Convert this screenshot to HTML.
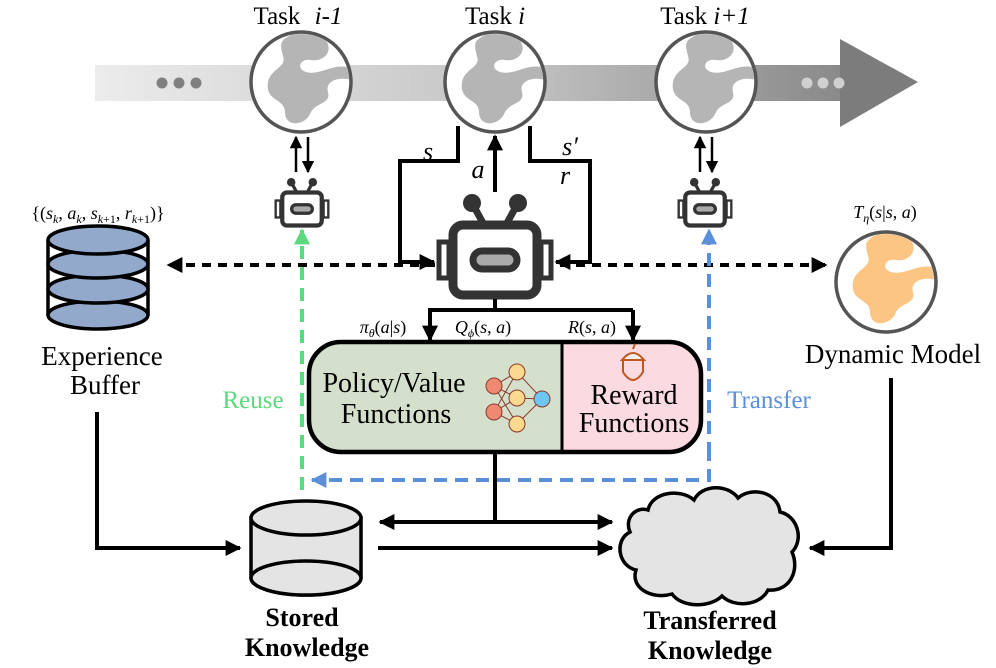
<!DOCTYPE html>
<html><head><meta charset="utf-8"><style>
html,body{margin:0;padding:0;background:#fff;}
svg{display:block;font-family:"Liberation Serif","DejaVu Serif",serif;}
svg text{font-family:"Liberation Serif","DejaVu Serif",serif;}
</style></head><body>
<svg width="996" height="668" viewBox="0 0 996 668" xmlns="http://www.w3.org/2000/svg">
<defs>
<linearGradient id="band" x1="95" y1="0" x2="920" y2="0" gradientUnits="userSpaceOnUse">
<stop offset="0" stop-color="#ececec"/><stop offset="0.5" stop-color="#c4c4c4"/><stop offset="1" stop-color="#7c7c7c"/>
</linearGradient>
<clipPath id="gc"><circle cx="0" cy="0" r="48"/></clipPath>
<g id="cont">
<path d="M-15,-44 C-5,-52 20,-52 26,-40 C32,-28 20,-20 10,-22 C0,-24 -6,-14 5,-10 C20,-6 32,-20 50,-14 L50,-2 C36,-6 24,0 27,10 C30,22 16,20 10,30 C5,44 -16,46 -16,30 C-16,16 -36,20 -33,0 C-30,-14 -14,-14 -18,-26 C-20,-34 -22,-40 -15,-44Z"/>
</g>
<g id="robot">
<rect x="-42" y="-35" width="84" height="70" rx="10" fill="#fff" stroke="#333" stroke-width="9"/>
<rect x="-56" y="-18" width="10" height="36" fill="#fff" stroke="#333" stroke-width="5"/>
<rect x="46" y="-18" width="10" height="36" fill="#fff" stroke="#333" stroke-width="5"/>
<line x1="-12" y1="-37" x2="-23" y2="-57" stroke="#333" stroke-width="7"/>
<line x1="12" y1="-37" x2="23" y2="-57" stroke="#333" stroke-width="7"/>
<circle cx="-23" cy="-57" r="9" fill="#333"/><circle cx="23" cy="-57" r="9" fill="#333"/>
<rect x="-22" y="-9" width="44" height="18" rx="9" fill="#aaa" stroke="#333" stroke-width="7"/>
</g>
<marker id="ah" viewBox="0 0 10 10" refX="9" refY="5" markerWidth="4" markerHeight="4" orient="auto-start-reverse"><path d="M0,0 L10,5 L0,10Z" fill="#000"/></marker>
<marker id="ahs" viewBox="0 0 10 10" refX="9" refY="5" markerWidth="5" markerHeight="5" orient="auto-start-reverse"><path d="M0,0 L10,5 L0,10Z" fill="#000"/></marker>
<marker id="ahg" viewBox="0 0 10 10" refX="9" refY="5" markerWidth="4" markerHeight="4" orient="auto"><path d="M0,0 L10,5 L0,10Z" fill="#5dd87f"/></marker>
<marker id="ahb" viewBox="0 0 10 10" refX="9" refY="5" markerWidth="4" markerHeight="4" orient="auto"><path d="M0,0 L10,5 L0,10Z" fill="#5b8fd8"/></marker>
</defs>

<rect x="95" y="65" width="750" height="36" fill="url(#band)"/>
<path d="M840,39 L918,82 L840,127Z" fill="#7c7c7c"/>
<circle cx="162" cy="83" r="5.5" fill="#808080"/><circle cx="179" cy="83" r="5.5" fill="#808080"/><circle cx="196" cy="83" r="5.5" fill="#808080"/>
<circle cx="807" cy="83" r="5.5" fill="#d0d0d0"/><circle cx="823" cy="83" r="5.5" fill="#d0d0d0"/><circle cx="839" cy="83" r="5.5" fill="#d0d0d0"/>

<g transform="translate(301,82)"><circle r="50" fill="#fff"/><g clip-path="url(#gc)" fill="#b5b5b5"><use href="#cont"/></g><circle r="50" fill="none" stroke="#555" stroke-width="3.5"/></g>
<g transform="translate(495,82)"><circle r="50" fill="#fff"/><g clip-path="url(#gc)" fill="#b5b5b5"><use href="#cont"/></g><circle r="50" fill="none" stroke="#555" stroke-width="3.5"/></g>
<g transform="translate(706,82)"><circle r="50" fill="#fff"/><g clip-path="url(#gc)" fill="#b5b5b5"><use href="#cont"/></g><circle r="50" fill="none" stroke="#555" stroke-width="3.5"/></g>
<g transform="translate(886,282)"><circle r="50" fill="#fff"/><g clip-path="url(#gc)" fill="#fdc584"><use href="#cont"/></g><circle r="50" fill="none" stroke="#555" stroke-width="3.5"/></g>

<text x="298" y="24" font-size="25" text-anchor="middle">Task <tspan font-style="italic" dx="8">i-1</tspan></text>
<text x="495" y="24" font-size="25" text-anchor="middle">Task <tspan font-style="italic">i</tspan></text>
<text x="705" y="24" font-size="25" text-anchor="middle">Task <tspan font-style="italic">i+1</tspan></text>

<line x1="296" y1="172" x2="296" y2="137" stroke="#000" stroke-width="2.5" marker-end="url(#ahs)"/>
<line x1="308" y1="137" x2="308" y2="172" stroke="#000" stroke-width="2.5" marker-end="url(#ahs)"/>
<line x1="700" y1="172" x2="700" y2="137" stroke="#000" stroke-width="2.5" marker-end="url(#ahs)"/>
<line x1="712" y1="137" x2="712" y2="172" stroke="#000" stroke-width="2.5" marker-end="url(#ahs)"/>
<use href="#robot" transform="translate(302,209) scale(0.47)"/>
<use href="#robot" transform="translate(705,209) scale(0.47)"/>

<polyline points="458,126 458,161 400,161 400,262 434,262" fill="none" stroke="#000" stroke-width="4" marker-end="url(#ah)"/>
<polyline points="530,126 530,161 590,161 590,262 556,262" fill="none" stroke="#000" stroke-width="4" marker-end="url(#ah)"/>
<line x1="495" y1="192" x2="495" y2="136" stroke="#000" stroke-width="4" marker-end="url(#ah)"/>
<text x="428" y="160" font-size="26" font-style="italic" text-anchor="middle">s</text>
<text x="478" y="178" font-size="26" font-style="italic" text-anchor="middle">a</text>
<text x="570" y="155" font-size="26" font-style="italic" text-anchor="middle">s′</text>
<text x="565" y="184" font-size="26" font-style="italic" text-anchor="middle">r</text>
<use href="#robot" transform="translate(495,260)"/>

<line x1="435" y1="265" x2="168" y2="265" stroke="#000" stroke-width="4" stroke-dasharray="9,7" marker-end="url(#ah)"/>
<line x1="560" y1="265" x2="826" y2="265" stroke="#000" stroke-width="4" stroke-dasharray="9,7" marker-end="url(#ah)"/>

<polyline points="495,299 495,310" fill="none" stroke="#000" stroke-width="4"/>
<polyline points="428,310 633,310" fill="none" stroke="#000" stroke-width="4"/>
<line x1="430" y1="310" x2="430" y2="340" stroke="#000" stroke-width="4" marker-end="url(#ah)"/>
<line x1="633" y1="310" x2="633" y2="340" stroke="#000" stroke-width="4" marker-end="url(#ah)"/>
<text x="383" y="333" font-size="18" text-anchor="middle"><tspan font-style="italic">π</tspan><tspan font-size="12" font-style="italic" dy="4">θ</tspan><tspan dy="-4">(</tspan><tspan font-style="italic">a</tspan>|<tspan font-style="italic">s</tspan>)</text>
<text x="483" y="333" font-size="18" text-anchor="middle"><tspan font-style="italic">Q</tspan><tspan font-size="12" font-style="italic" dy="4">ϕ</tspan><tspan dy="-4">(</tspan><tspan font-style="italic">s</tspan>, <tspan font-style="italic">a</tspan>)</text>
<text x="592" y="333" font-size="18" text-anchor="middle"><tspan font-style="italic">R</tspan>(<tspan font-style="italic">s</tspan>, <tspan font-style="italic">a</tspan>)</text>

<clipPath id="bx"><rect x="309" y="342" width="392" height="110" rx="32"/></clipPath>
<g clip-path="url(#bx)"><rect x="309" y="342" width="253" height="110" fill="#d5e0cc"/><rect x="562" y="342" width="140" height="110" fill="#fcdae1"/></g>
<rect x="309" y="342" width="392" height="110" rx="32" fill="none" stroke="#000" stroke-width="4.5"/>
<line x1="562" y1="342" x2="562" y2="452" stroke="#000" stroke-width="3"/>
<text x="394" y="392" font-size="28" text-anchor="middle">Policy/Value</text>
<text x="396" y="423" font-size="28" text-anchor="middle">Functions</text>
<text x="634" y="404" font-size="28" text-anchor="middle">Reward</text>
<text x="634" y="432" font-size="28" text-anchor="middle">Functions</text>
<g stroke="#8b3a2a" stroke-width="1">
<line x1="494" y1="386" x2="517" y2="372"/><line x1="494" y1="386" x2="517" y2="398"/><line x1="494" y1="386" x2="517" y2="424"/>
<line x1="494" y1="412" x2="517" y2="372"/><line x1="494" y1="412" x2="517" y2="398"/><line x1="494" y1="412" x2="517" y2="424"/>
<line x1="517" y1="372" x2="542" y2="399"/><line x1="517" y1="398" x2="542" y2="399"/><line x1="517" y1="424" x2="542" y2="399"/>
<circle cx="494" cy="386" r="8" fill="#ef8a72"/><circle cx="494" cy="412" r="8" fill="#ef8a72"/>
<circle cx="517" cy="372" r="8" fill="#fbd98f"/><circle cx="517" cy="398" r="8" fill="#fbd98f"/><circle cx="517" cy="424" r="8" fill="#fbd98f"/>
<circle cx="542" cy="399" r="8" fill="#6cc8f2"/>
</g>
<g stroke="#c0581d" stroke-width="2" fill="none">
<path d="M622,360 Q633,346 644,360 Z" fill="#eee"/>
<path d="M623,361 L623,372 Q633,388 643,372 L643,361"/>
<line x1="633" y1="349" x2="635" y2="344"/>
</g>

<polyline points="495,452 495,522" fill="none" stroke="#000" stroke-width="4"/>
<polyline points="709,448 709,480 312,480" fill="none" stroke="#5b8fd8" stroke-width="4" stroke-dasharray="13,8" marker-end="url(#ahb)"/>
<line x1="709" y1="455" x2="709" y2="230" stroke="#5b8fd8" stroke-width="4" stroke-dasharray="13,8" marker-end="url(#ahb)"/>
<line x1="302" y1="490" x2="302" y2="230" stroke="#5dd87f" stroke-width="4" stroke-dasharray="13,8" marker-end="url(#ahg)"/>
<text x="253" y="408" font-size="25" fill="#5dd87f" text-anchor="middle">Reuse</text>
<text x="769" y="408" font-size="25" fill="#5b8fd8" text-anchor="middle">Transfer</text>

<text x="98" y="219" font-size="18" text-anchor="middle">{(<tspan font-style="italic">s</tspan><tspan font-size="12" font-style="italic" dy="4">k</tspan><tspan dy="-4">, </tspan><tspan font-style="italic">a</tspan><tspan font-size="12" font-style="italic" dy="4">k</tspan><tspan dy="-4">, </tspan><tspan font-style="italic">s</tspan><tspan font-size="12" dy="4"><tspan font-style="italic">k</tspan>+1</tspan><tspan dy="-4">, </tspan><tspan font-style="italic">r</tspan><tspan font-size="12" dy="4"><tspan font-style="italic">k</tspan>+1</tspan><tspan dy="-4">)}</tspan></text>
<g stroke="#000" stroke-width="3.5">
<path d="M48,240 L48,315 M148,240 L148,315" fill="none"/>
<ellipse cx="98" cy="315" rx="50" ry="14" fill="#93a9cc"/>
<ellipse cx="98" cy="289" rx="50" ry="14" fill="#93a9cc"/>
<ellipse cx="98" cy="264" rx="50" ry="14" fill="#93a9cc"/>
<ellipse cx="98" cy="240" rx="50" ry="14" fill="#93a9cc"/>
</g>
<text x="102" y="365" font-size="27" text-anchor="middle">Experience</text>
<text x="105" y="394" font-size="27" text-anchor="middle">Buffer</text>
<polyline points="97,412 97,548 240,548" fill="none" stroke="#000" stroke-width="4" marker-end="url(#ah)"/>

<g stroke="#000" stroke-width="3.5" fill="#e4e4e4">
<path d="M251,518 L251,578 A55,17 0 0 0 361,578 L361,518 Z"/>
<ellipse cx="306" cy="578" rx="55" ry="17"/>
<ellipse cx="306" cy="518" rx="55" ry="17"/>
</g>
<text x="302" y="626" font-size="26" font-weight="bold" text-anchor="middle">Stored</text>
<text x="307" y="656" font-size="26" font-weight="bold" text-anchor="middle">Knowledge</text>

<line x1="380" y1="522" x2="612" y2="522" stroke="#000" stroke-width="4" marker-start="url(#ah)" marker-end="url(#ah)"/>
<line x1="378" y1="548" x2="612" y2="548" stroke="#000" stroke-width="4" marker-end="url(#ah)"/>

<path d="M648,510 C652,492 680,488 694,500 C702,484 728,484 738,498 C752,486 778,492 780,512 C798,516 804,540 792,552 C800,570 790,592 768,590 C760,606 734,608 722,596 C710,608 682,608 672,594 C652,600 630,588 636,570 C618,566 614,540 630,532 C624,518 636,506 648,510 Z" fill="#e4e4e4" stroke="#000" stroke-width="3.5"/>
<text x="710" y="629" font-size="26" font-weight="bold" text-anchor="middle">Transferred</text>
<text x="710" y="659" font-size="26" font-weight="bold" text-anchor="middle">Knowledge</text>

<text x="885" y="218" font-size="18" text-anchor="middle"><tspan font-style="italic">T</tspan><tspan font-size="12" font-style="italic" dy="4">η</tspan><tspan dy="-4">(</tspan><tspan font-style="italic">s</tspan>|<tspan font-style="italic">s</tspan>, <tspan font-style="italic">a</tspan>)</text>
<text x="893" y="363" font-size="27" text-anchor="middle">Dynamic Model</text>
<polyline points="891,378 891,548 810,548" fill="none" stroke="#000" stroke-width="4" marker-end="url(#ah)"/>
</svg>
</body></html>
